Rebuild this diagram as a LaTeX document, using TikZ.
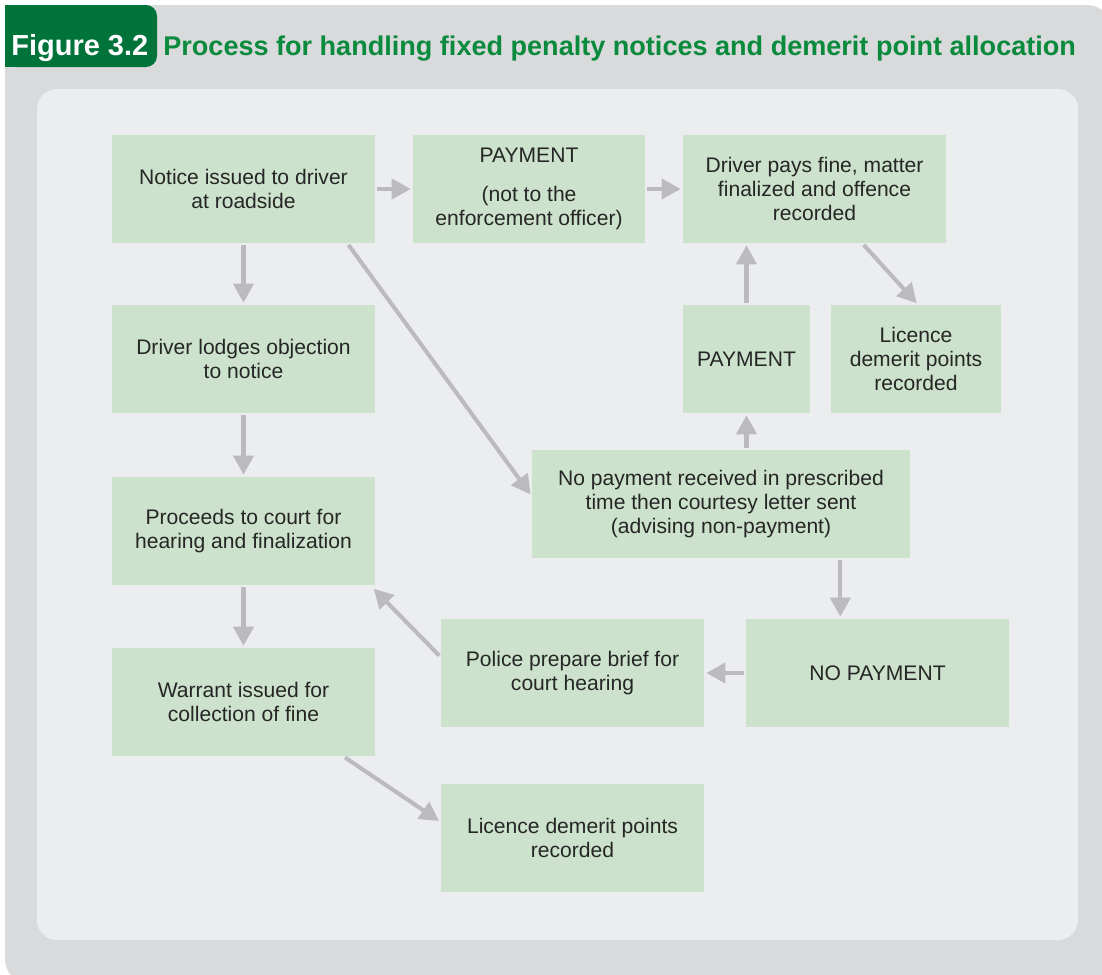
\documentclass[tikz,border=0pt]{standalone}
\usepackage{fontspec}
\setmainfont{Liberation Sans}
\usetikzlibrary{arrows.meta,positioning}

\definecolor{panelgray}{HTML}{D9DADC}
\definecolor{innergray}{HTML}{ECEDEF}
\definecolor{boxgreen}{HTML}{CCE2CC}
\definecolor{tabgreen}{HTML}{00733A}
\definecolor{titlegreen}{HTML}{0A8A3C}
\definecolor{arrowgray}{HTML}{BBBBBF}
\definecolor{textgray}{HTML}{262626}

\tikzset{
    stepbox/.style={fill=boxgreen, text=textgray, align=center,
        minimum width=5.26cm, minimum height=2.16cm, inner sep=2pt,
        font=\fontsize{12}{13.7}\selectfont},
    flow/.style={draw=arrowgray, line width=2.3pt,
        -{Triangle[length=0.38cm,width=0.4cm]},
        shorten >=0.04cm, shorten <=0.04cm}
}

\begin{document}
\begin{tikzpicture}[x=0.02cm, y=-0.02cm]
    \useasboundingbox (0,0) rectangle (1102,974);

    % Panels
    \fill[panelgray, rounded corners=0.5cm] (5,5) rectangle (1112,984);
    \fill[panelgray] (5,5) rectangle (60,60);
    \fill[innergray, rounded corners=0.4cm] (37,89) rectangle (1078,940);

    % Title tab
    \fill[tabgreen] (5,5) rectangle (140,67);
    \fill[tabgreen, rounded corners=0.22cm] (5,5) rectangle (157,67);
    \node[anchor=base west, text=white, inner sep=0pt,
        font=\fontsize{16.5}{18}\selectfont\bfseries] (fig) at (11,55) {Figure 3.2};
    \node[anchor=base west, text=titlegreen, inner sep=0pt,
        font=\fontsize{15.4}{18}\selectfont\bfseries] (title) at (163,55)
        {Process for handling fixed penalty notices and demerit point allocation};

    % Top row
    \node[stepbox] (notice) at (243.5,189) {Notice issued to driver\\at roadside};
    \node[stepbox, minimum width=4.64cm] (payA) at (529,189)
        {PAYMENT\\[0.3cm](not to the\\enforcement officer)};
    \node[stepbox] (paid) at (814.5,189)
        {Driver pays fine, matter\\finalized and offence\\recorded};

    % Second row
    \node[stepbox] (lodge) at (243.5,359) {Driver lodges objection\\to notice};
    \node[stepbox, minimum width=2.54cm] (payB) at (746.5,359) {PAYMENT};
    \node[stepbox, minimum width=3.4cm] (licA) at (916,359)
        {Licence\\demerit points\\recorded};

    % Middle
    \node[stepbox, minimum width=7.56cm] (nopay) at (721,504)
        {No payment received in prescribed\\time then courtesy letter sent\\(advising non-payment)};
    \node[stepbox] (court) at (243.5,531) {Proceeds to court for\\hearing and finalization};

    % Lower rows
    \node[stepbox] (police) at (572.5,673) {Police prepare brief for\\court hearing};
    \node[stepbox] (nopaymt) at (877.5,673) {NO PAYMENT};
    \node[stepbox] (warrant) at (243.5,702) {Warrant issued for\\collection of fine};
    \node[stepbox] (licB) at (572.5,838) {Licence demerit points\\recorded};

    % Connectors
    \draw[flow] (notice) -- (payA);
    \draw[flow] (payA) -- (paid);
    \draw[flow] (notice) -- (lodge);
    \draw[flow] ([xshift=-0.56cm]notice.south east) -- ([yshift=0.16cm]nopay.west);
    \draw[flow] (lodge) -- (court);
    \draw[flow] (court) -- (warrant);
    \draw[flow] ([xshift=-0.64cm]warrant.south east) -- ([yshift=0.32cm]licB.west);
    \draw[flow] (payB.north) -- (payB.north |- paid.south);
    \draw[flow] (payB.south |- nopay.north) -- (payB.south);
    \draw[flow] ([xshift=-1.68cm]paid.south east) -- ([xshift=0.04cm]licA.north);
    \draw[flow] ([xshift=-1.4cm]nopay.south east) -- ([xshift=-1.4cm]nopay.south east |- nopaymt.north);
    \draw[flow] (nopaymt) -- (police);
    \draw[flow] ([yshift=0.32cm]police.west) -- ([xshift=-0.06cm,yshift=-0.04cm]court.south east);

\end{tikzpicture}
\end{document}
